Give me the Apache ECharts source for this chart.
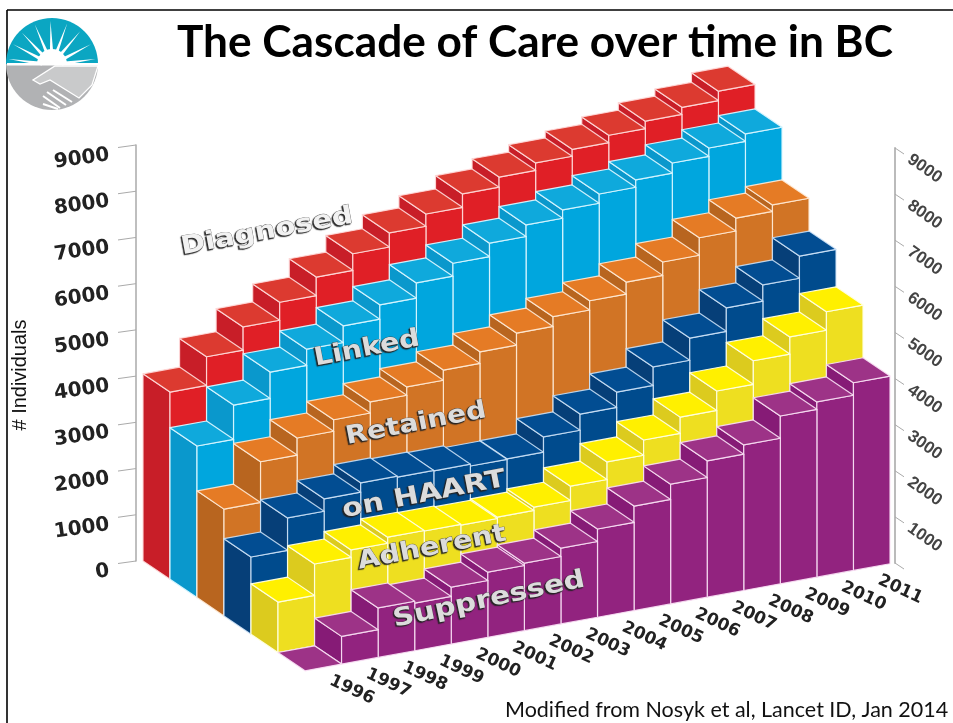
<!DOCTYPE html>
<html>
<head>
<meta charset="utf-8">
<style>html,body{margin:0;padding:0;background:#fff}#c{width:953px;height:723px}</style>
<script src="https://cdn.jsdelivr.net/npm/echarts@6/dist/echarts.min.js"></script>
</head>
<body>
<div id="c"></div>
<script>
// ---- data ----
const years = ['1996','1997','1998','1999','2000','2001','2002','2003','2004','2005','2006','2007','2008','2009','2010','2011'];
const diagnosed  = [4050,4670,5170,5560,5960,6320,6625,6890,7180,7400,7560,7710,7870,8030,8185,8390];
const linked     = [3280,4020,4590,4940,5300,5610,5940,6220,6510,6760,6940,7140,7300,7520,7700,7860];
const retained   = [2310,3190,3560,3810,4050,4230,4450,4700,4960,5170,5370,5630,5920,6300,6580,6720];
const onHaart    = [1670,2370,2640,2840,2820,2810,2770,2780,3110,3460,3790,4190,4670,5180,5530,6010];
const adherent   = [1090,1770,1930,2060,2050,2030,2060,2130,2440,2820,3150,3500,3920,4430,4800,5200];
const suppressed = [0,600,1070,1030,1230,1410,1460,1640,1910,2260,2590,2950,3150,3630,3790,4060];
const rowNames = ['Diagnosed','Linked','Retained','on HAART','Adherent','Suppressed'];
const rowValues = [diagnosed,linked,retained,onHaart,adherent,suppressed];
const zTicks = [0,1000,2000,3000,4000,5000,6000,7000,8000,9000];

// ---- styles ----
const rowColors = [
  {front:'#e01f26',side:'#c81e28',top:'#dc3a30',edge:'rgba(255,220,220,.9)'},
  {front:'#00a6de',side:'#0a98cc',top:'#0fa9dc',edge:'rgba(215,245,255,.95)'},
  {front:'#d17425',side:'#b8651f',top:'#e57b25',edge:'rgba(255,235,215,.9)'},
  {front:'#004b8d',side:'#063f78',top:'#024d92',edge:'rgba(210,230,250,.85)'},
  {front:'#eedf20',side:'#dccb1e',top:'#fff000',edge:'rgba(255,255,225,.95)'},
  {front:'#92237f',side:'#861b76',top:'#9d3387',edge:'rgba(250,225,245,.9)'}
];
const GRID_LEFT = 143, DEPTH_X = 27, DEPTH_Y = 18.3, SLOPE = 0.183;

// oblique projection on top of the cartesian scale
function project(api, j, v, depth) {
  const p = api.coord([j, v]);
  return [p[0] + depth * DEPTH_X, p[1] - (p[0] - GRID_LEFT) * SLOPE + depth * DEPTH_Y];
}
function face(pts, fill, edge) {
  return {type:'polygon', shape:{points:pts}, style:{fill:fill, stroke:edge, lineWidth:1.2, lineJoin:'round'}};
}
function boxItem(row) {
  return function (params, api) {
    const j = api.value(0), v = api.value(1), c = rowColors[row];
    const d0 = row, d1 = row + 1;
    const bfl = project(api,j,0,d1), bfr = project(api,j+1,0,d1), bbl = project(api,j,0,d0);
    const tfl = project(api,j,v,d1), tfr = project(api,j+1,v,d1), tbl = project(api,j,v,d0), tbr = project(api,j+1,v,d0);
    const children = [];
    if (v > 0) {
      children.push(face([bbl,bfl,tfl,tbl], c.side, c.edge));
      children.push(face([bfl,bfr,tfr,tfl], c.front, c.edge));
    }
    children.push(face([tbl,tfl,tfr,tbr], c.top, c.edge));
    return {type:'group', children:children};
  };
}
const boxSeries = rowNames.map(function (name, row) {
  return {
    type:'custom', name:name, coordinateSystem:'cartesian2d', xAxisIndex:0, yAxisIndex:0,
    silent:true, clip:false, encode:{x:0,y:1},
    renderItem:boxItem(row),
    data: years.map(function (y, j) { return [j, rowValues[row][j]]; }).reverse()
  };
});

// slanted year labels along the front edge
const yearSeries = {
  type:'custom', name:'years', coordinateSystem:'cartesian2d', xAxisIndex:0, yAxisIndex:0, silent:true, clip:false,
  encode:{x:0,y:1},
  renderItem:function (params, api) {
    const j = api.value(0);
    const p = project(api, j + 0.5, 0, 6);
    return {type:'text', x:p[0]+28.5, y:p[1]+22.5, rotation:-25*Math.PI/180,
      style:{text:years[j], fill:'#222', font:'bold 17px "DejaVu Sans"', align:'center', verticalAlign:'middle'}};
  },
  data: years.map(function (y, j) { return [j, 0]; })
};
// tilted tick marks on the two upright axes
const leftTicks = {
  type:'custom', name:'leftTicks', coordinateSystem:'cartesian2d', xAxisIndex:0, yAxisIndex:0, silent:true, clip:false,
  encode:{x:0,y:1},
  renderItem:function (params, api) {
    const p = api.coord([0, api.value(1)]);
    return {type:'line', shape:{x1:p[0]-7,y1:p[1],x2:p[0]-25,y2:p[1]+2.5}, style:{stroke:'#aaa',lineWidth:1}};
  },
  data: zTicks.map(function (t) { return [0, t]; })
};
const rightTicks = {
  type:'custom', name:'rightTicks', coordinateSystem:'cartesian2d', xAxisIndex:1, yAxisIndex:1, silent:true, clip:false,
  encode:{x:0,y:1},
  renderItem:function (params, api) {
    const p = api.coord([1, api.value(1)]);
    return {type:'line', shape:{x1:p[0],y1:p[1],x2:p[0]+9,y2:p[1]+6}, style:{stroke:'#aaa',lineWidth:1}};
  },
  data: zTicks.map(function (t) { return [1, t]; })
};

// ---- decoration ----
function rowLabel(text, x, y, size, scaleX, deg, fill) {
  return {type:'text', x:x, y:y, rotation:deg*Math.PI/180, scaleX:scaleX, z:100,
    style:{text:text, font:'bold '+size+'px "DejaVu Sans"', fill:fill, align:'center', verticalAlign:'middle',
      stroke:'rgba(70,70,70,.9)', lineWidth:0.6, textShadowColor:'#222', textShadowBlur:1, textShadowOffsetX:-1.2, textShadowOffsetY:1.2}};
}
const rays = [172,152,133,113,92,70,50,28,8].map(function (deg) {
  const a = deg*Math.PI/180, n = 0.09, cx = 52, cy = 65, r0 = 10, r1 = 44;
  return {type:'polygon', shape:{points:[
    [cx+r0*Math.cos(a-n*2),cy-r0*Math.sin(a-n*2)],
    [cx+r1*Math.cos(a),cy-r1*Math.sin(a)],
    [cx+r0*Math.cos(a+n*2),cy-r0*Math.sin(a+n*2)]
  ]}, style:{fill:'#fff'}};
});
const logo = [
  {type:'sector', shape:{cx:52,cy:64,r:46,startAngle:Math.PI,endAngle:2*Math.PI}, style:{fill:'#0ba6c2'}},
  {type:'sector', shape:{cx:52,cy:64,r:46,startAngle:0,endAngle:Math.PI}, style:{fill:'#b1b2b4'}}
].concat(rays).concat([
  {type:'sector', shape:{cx:52,cy:64,r:15,startAngle:Math.PI,endAngle:2*Math.PI}, style:{fill:'#fff'}},
  {type:'rect', shape:{x:7,y:63,width:91,height:2.5}, style:{fill:'#fff'}},
  {type:'polygon', shape:{points:[[55,66],[98,66],[92,85],[79,98],[50,80],[40,84],[33,80]]}, style:{fill:'#c9cacb',stroke:'#fff',lineWidth:1.3}},
  {type:'polyline', shape:{points:[[43,104],[58,109]]}, style:{stroke:'#fff',lineWidth:2}},
  {type:'polyline', shape:{points:[[43,96],[60,108]]}, style:{stroke:'#fff',lineWidth:2}},
  {type:'polyline', shape:{points:[[47,92],[66,105]]}, style:{stroke:'#fff',lineWidth:2}},
  {type:'polyline', shape:{points:[[53,90],[72,102]]}, style:{stroke:'#fff',lineWidth:2}}
]);

const chart = echarts.init(document.getElementById('c'), null, {renderer:'canvas'});
chart.setOption({
  animation:false,
  backgroundColor:'#fff',
  title:{text:'The Cascade of Care over time in BC', left:172, top:16,
    textStyle:{fontFamily:'Lato', fontWeight:'bold', fontSize:44.2, color:'#000'}},
  grid:[
    {left:GRID_LEFT, top:145, width:585, height:416},
    {left:GRID_LEFT, top:148, width:752, height:415}
  ],
  xAxis:[
    {gridIndex:0, type:'value', min:0, max:16, show:false},
    {gridIndex:1, type:'value', min:0, max:1, show:false}
  ],
  yAxis:[
    {gridIndex:0, type:'value', min:0, max:9000, interval:1000, position:'left', offset:7,
     axisLine:{show:true, onZero:false, lineStyle:{color:'#aaa', width:1.5}}, axisTick:{show:false}, splitLine:{show:false},
     axisLabel:{rotate:8, margin:28, verticalAlign:'top', fontFamily:'DejaVu Sans', fontWeight:'bold', fontSize:20, color:'#222',
       formatter:function (v) { return String(v); }}},
    {gridIndex:1, type:'value', min:0, max:9000, interval:1000, position:'right',
     axisLine:{show:true, onZero:false, lineStyle:{color:'#bbb', width:2}}, axisTick:{show:false}, splitLine:{show:false},
     axisLabel:{rotate:-35, margin:21, verticalAlign:'top', lineHeight:24, fontFamily:'Liberation Sans', fontWeight:'bold', fontSize:17, color:'#444',
       formatter:function (v) { return v === 0 ? '' : String(v); }}}
  ],
  series: boxSeries.concat([yearSeries, leftTicks, rightTicks]),
  graphic:[
    {type:'line', shape:{x1:7,y1:10,x2:953,y2:10}, style:{stroke:'#000',lineWidth:1.6}},
    {type:'line', shape:{x1:7,y1:10,x2:7,y2:723}, style:{stroke:'#000',lineWidth:1.6}},
    {type:'group', children:logo},
    {type:'text', x:20, y:375, rotation:Math.PI/2, scaleX:0.95, style:{text:'# Individuals', font:'21px "Liberation Sans"', fill:'#111', align:'center', verticalAlign:'middle'}},
    {type:'text', x:505, y:699, style:{text:'Modified from Nosyk et al, Lancet ID, Jan 2014', font:'21.5px Lato', fill:'#111', align:'left', verticalAlign:'top'}},
    rowLabel('Diagnosed',267,232,25,1.17,10.5,'#f2f2f2'),
    rowLabel('Linked',367,349,25,1.15,11,'#dcdcdc'),
    rowLabel('Retained',416,424,25,1.13,11,'#dcdcdc'),
    rowLabel('on HAART',424,495,25,1.2,11,'#dcdcdc'),
    rowLabel('Adherent',432,548,25,1.15,11,'#dcdcdc'),
    rowLabel('Suppressed',489,600,25,1.18,12,'#dcdcdc')
  ]
});
</script>
</body>
</html>
